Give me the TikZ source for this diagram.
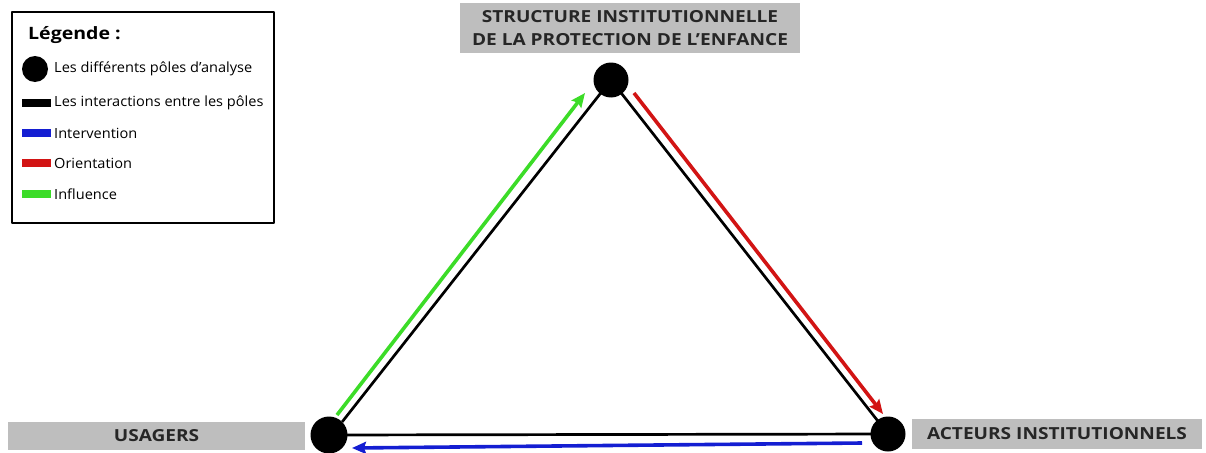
\documentclass[tikz,border=0pt]{standalone}
\usepackage{fontspec}
\setmainfont{Open Sans}
\newfontfamily\labfont[FakeStretch=1.15]{Open Sans}
\newfontfamily\legfont[FakeStretch=1.04]{Open Sans}
\usetikzlibrary{arrows.meta,positioning}
\definecolor{labgray}{RGB}{190,190,190}
\definecolor{flowgreen}{RGB}{60,220,40}
\definecolor{flowred}{RGB}{210,20,20}
\definecolor{flowblue}{RGB}{20,30,210}

\begin{document}
\begin{tikzpicture}[x=1pt, y=-1pt, line join=round]
\tikzset{
  pole/.style={circle, fill=black, minimum size=35pt, inner sep=0pt},
  polelab/.style={fill=labgray, text=black!85, inner sep=0pt, align=center,
    font=\labfont\bfseries\fontsize{16.6}{23}\selectfont},
  link/.style={line width=2.7pt, black},
  flow/.style={line width=3.6pt, -{Stealth[length=14pt, width=12pt, inset=2pt]}},
  legbar/.style={minimum width=29pt, minimum height=8pt, inner sep=0pt},
  legtxt/.style={anchor=west, inner sep=0pt, font=\legfont\fontsize{14}{16}\selectfont},
}
\useasboundingbox (0,0) rectangle (1206,452);

% poles
\node[pole] (top) at (611,80) {};
\node[pole, minimum size=37pt] (usagers) at (329,435) {};
\node[pole] (acteurs) at (888,434) {};

% labels
\node[polelab, minimum width=340pt, minimum height=50pt] (toplab) at (630,28)
  {STRUCTURE INSTITUTIONNELLE\\DE LA PROTECTION DE L’ENFANCE};
\node[polelab, minimum width=297pt, minimum height=28pt] (usalab) at (156.5,436) {USAGERS};
\node[polelab, minimum width=290pt, minimum height=30pt] (actlab) at (1057,434) {ACTEURS INSTITUTIONNELS};

% interactions
\draw[link] (top.center) -- (usagers.45);
\draw[link] (top.center) -- (acteurs.center);
\draw[link] (usagers.center) -- (acteurs.center);

% flows
\coordinate (g0) at (337,415); \coordinate (g1) at (585,93);
\coordinate (r0) at (634,93);  \coordinate (r1) at (883,414);
\coordinate (b0) at (862,443); \coordinate (b1) at (352,448);
\draw[flow, flowgreen] (g0) -- (g1);
\draw[flow, flowred] (r0) -- (r1);
\draw[flow, flowblue] (b0) -- (b1);

% legend
\node[draw, line width=1.4pt, minimum width=262pt, minimum height=211pt, inner sep=0pt] (legend) at (143,117.5) {};
\node[anchor=west, inner sep=0pt, font=\labfont\bfseries\fontsize{17}{20}\selectfont] (legtitle) at (28,35) {Légende :};
\node[circle, fill=black, minimum size=26pt, inner sep=0pt] (legpole) at (35,69) {};
\node[legbar, fill=black] (leglink) at (36.5,103) {};
\node[legbar, fill=flowblue] (legblue) at (36.5,133) {};
\node[legbar, fill=flowred] (legred) at (36.5,163) {};
\node[legbar, fill=flowgreen] (leggreen) at (36.5,194) {};
\node[legtxt] at (54,69) {Les différents pôles d’analyse};
\node[legtxt] at (54,103) {Les interactions entre les pôles};
\node[legtxt] at (54,133) {Intervention};
\node[legtxt] at (54,163) {Orientation};
\node[legtxt] at (54,194) {Influence};
\end{tikzpicture}
\end{document}
